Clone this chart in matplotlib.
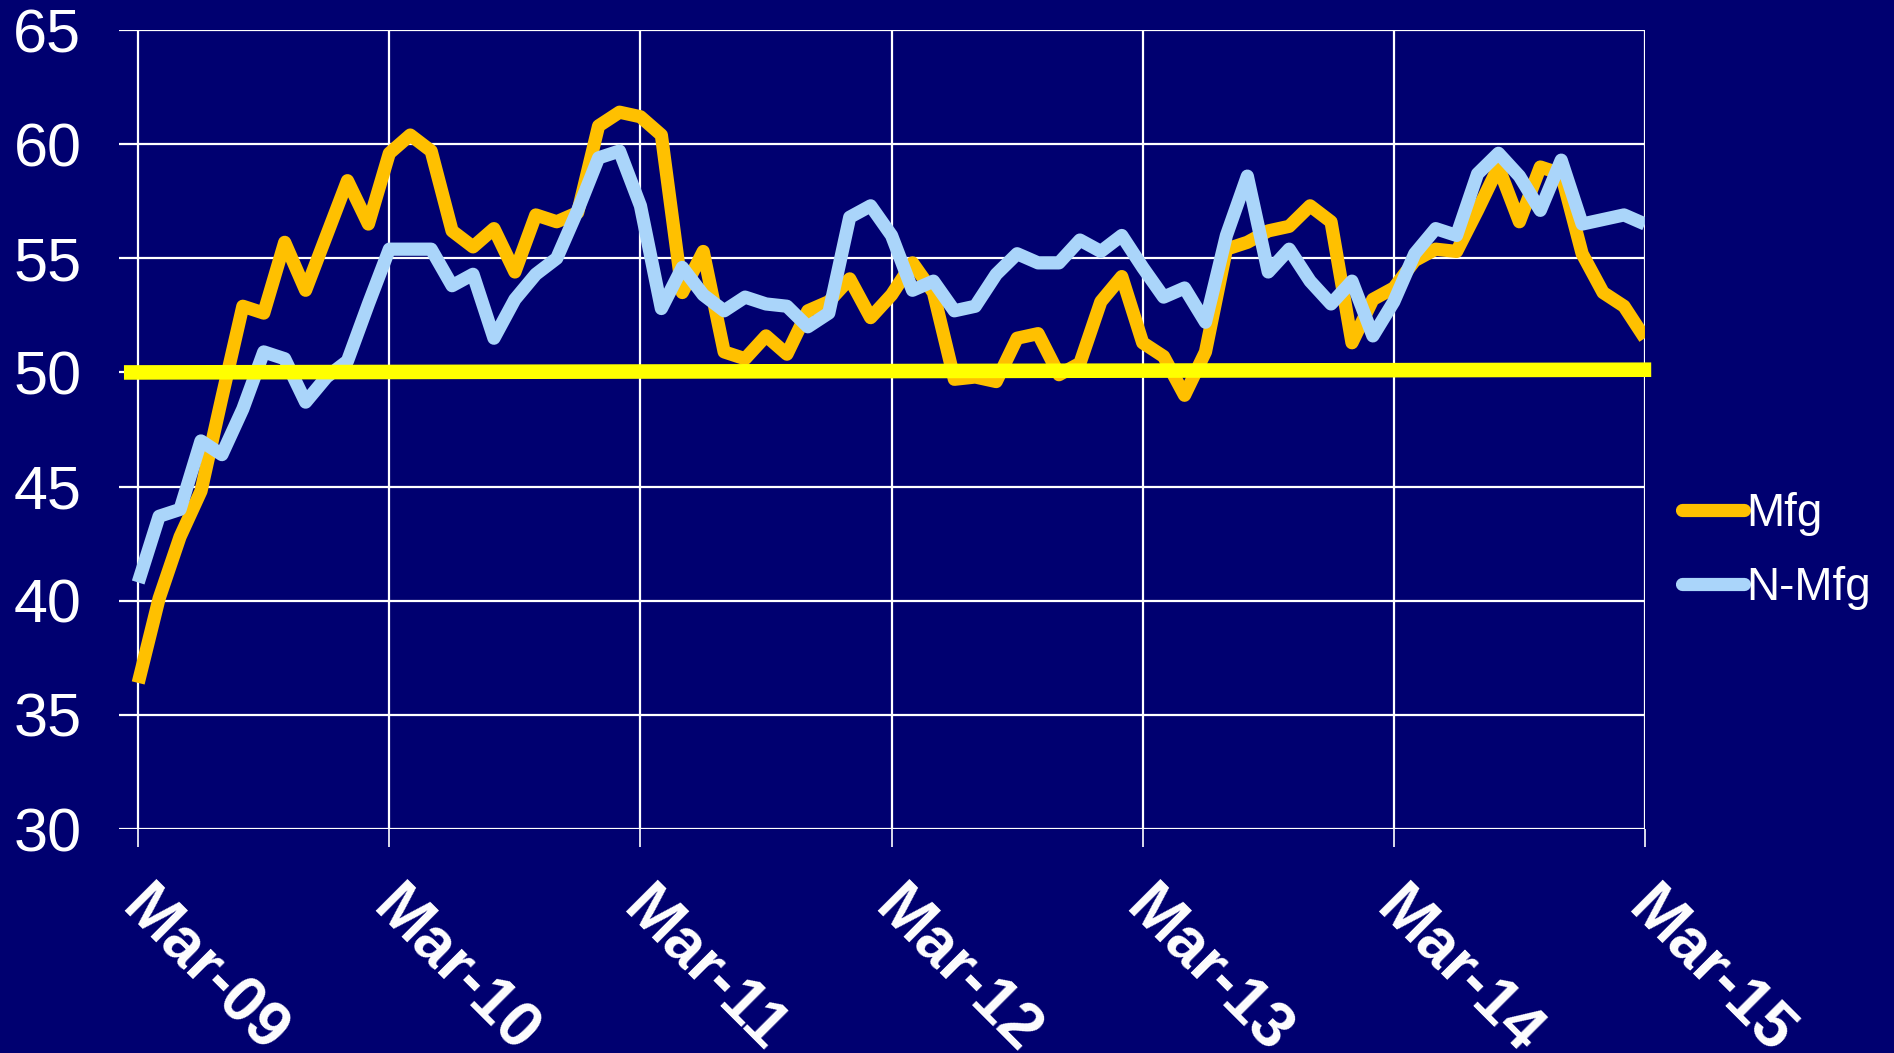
import matplotlib
matplotlib.use("Agg")
import matplotlib.pyplot as plt
from matplotlib.transforms import ScaledTranslation

# ---- data ----
months_idx = list(range(73))  # Mar-09 .. Mar-15 monthly
tick_pos = [0, 12, 24, 36, 48, 60, 72]
tick_labels = ["Mar-09", "Mar-10", "Mar-11", "Mar-12", "Mar-13", "Mar-14", "Mar-15"]
y_ticks = [30, 35, 40, 45, 50, 55, 60, 65]

mfg = [36.4, 40.1, 42.8, 44.8, 48.9, 52.9, 52.6, 55.7, 53.6, 56.0, 58.4, 56.5,
       59.6, 60.4, 59.7, 56.2, 55.5, 56.3, 54.4, 56.9, 56.6, 57.0, 60.8, 61.4,
       61.2, 60.4, 53.5, 55.3, 50.9, 50.6, 51.6, 50.8, 52.7, 53.1, 54.1, 52.4,
       53.4, 54.8, 53.5, 49.7, 49.8, 49.6, 51.5, 51.7, 49.9, 50.4, 53.1, 54.2,
       51.3, 50.7, 49.0, 50.9, 55.4, 55.7, 56.2, 56.4, 57.3, 56.6, 51.3, 53.2,
       53.7, 54.9, 55.4, 55.3, 57.1, 59.0, 56.6, 59.0, 58.7, 55.2, 53.5, 52.9,
       51.5]
nmfg = [40.8, 43.7, 44.0, 47.0, 46.4, 48.4, 50.9, 50.6, 48.7, 49.8, 50.5, 53.0,
        55.4, 55.4, 55.4, 53.8, 54.3, 51.5, 53.2, 54.3, 55.0, 57.1, 59.4, 59.7,
        57.3, 52.8, 54.6, 53.4, 52.7, 53.3, 53.0, 52.9, 52.0, 52.6, 56.8, 57.3,
        56.0, 53.6, 54.0, 52.7, 52.9, 54.3, 55.2, 54.8, 54.8, 55.8, 55.3, 56.0,
        54.6, 53.3, 53.7, 52.2, 56.0, 58.6, 54.4, 55.4, 54.0, 53.0, 54.0, 51.6,
        53.1, 55.2, 56.3, 56.0, 58.7, 59.6, 58.6, 57.1, 59.3, 56.5, 56.7, 56.9,
        56.5]
threshold_x = [-0.68, 72.3]
threshold_y = [50.0, 50.12]

BG = "#000070"
ORANGE = "#FFC000"
LBLUE = "#AAD5FA"
YELLOW = "#FFFF00"

plt.rcParams["font.family"] = ["Liberation Sans", "DejaVu Sans"]

fig = plt.figure(figsize=(18.94, 10.53), dpi=100, facecolor=BG)
ax = fig.add_axes([0.0628, 0.2127, 0.8057, 0.7588])
ax.set_facecolor(BG)

ax.set_xlim(-0.92, 72)
ax.set_ylim(30, 65)
ax.set_yticks(y_ticks)
ax.set_xticks(tick_pos)
ax.set_xticklabels(tick_labels)

ax.grid(True, color="white", linewidth=1.6)
ax.set_axisbelow(True)
for s in ax.spines.values():
    s.set_visible(False)

ax.tick_params(axis="y", length=0, pad=27, labelsize=44, colors="white")
ax.tick_params(axis="x", length=13, width=1.2, color="white", direction="out",
               pad=22, labelsize=46, labelcolor="white")
shift = ScaledTranslation(14 / 100, 0, fig.dpi_scale_trans)
for lbl in ax.get_xticklabels():
    lbl.set_rotation(-45)
    lbl.set_rotation_mode("anchor")
    lbl.set_ha("left")
    lbl.set_va("top")
    lbl.set_fontweight("bold")
    lbl.set_transform(lbl.get_transform() + shift)

ax.plot(months_idx, mfg, color=ORANGE, linewidth=9.5, solid_joinstyle="round",
        solid_capstyle="butt", label="Mfg", zorder=3)
ax.plot(months_idx, nmfg, color=LBLUE, linewidth=9.5, solid_joinstyle="round",
        solid_capstyle="butt", label="N-Mfg", zorder=4)
ax.plot(threshold_x, threshold_y, color=YELLOW, linewidth=10.5, solid_capstyle="butt",
        clip_on=False, zorder=5)

handles, labels = ax.get_legend_handles_labels()
leg = fig.legend(handles, labels, loc="center left", bbox_to_anchor=(0.888, 0.477),
                 frameon=False, fontsize=33, handlelength=1.35, handletextpad=0.05,
                 borderpad=0, borderaxespad=0, labelspacing=0.65, labelcolor="white")
for l in leg.get_lines():
    l.set_linewidth(9.5)
    l.set_solid_capstyle("round")

fig.savefig("out.png", dpi=100, facecolor=BG)
